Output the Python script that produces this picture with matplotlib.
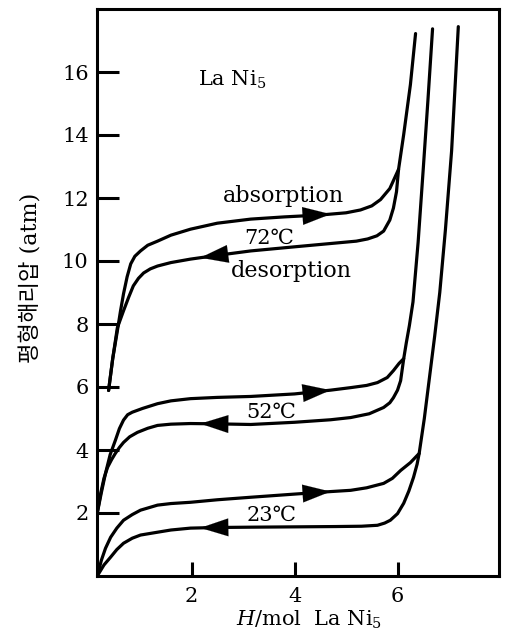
import numpy as np
import matplotlib.pyplot as plt

plt.rcParams['font.family'] = ['DejaVu Serif', 'Noto Sans CJK KR', 'DejaVu Sans']
plt.rcParams['mathtext.fontset'] = 'dejavuserif'

# ---- data (x: H/mol LaNi5, y: atm) ----
x_72_abs = [0.39, 0.47, 0.56, 0.62, 0.68, 0.75, 0.82, 0.90, 1.01, 1.15, 1.34, 1.60, 1.98, 2.5,
            3.15, 3.8, 4.5, 5.0, 5.28, 5.5, 5.67, 5.85, 6.02, 6.12, 6.25, 6.35]
y_72_abs = [5.89, 6.9, 7.78, 8.4, 8.96, 9.5, 9.91, 10.15, 10.32, 10.5, 10.63, 10.82, 11.01, 11.2,
            11.33, 11.4, 11.46, 11.53, 11.62, 11.75, 11.95, 12.3, 12.91, 14.02, 15.6, 17.22]
x_72_des = [0.39, 0.47, 0.56, 0.62, 0.68, 0.78, 0.87, 0.97, 1.07, 1.2, 1.34, 1.6, 1.98, 2.5,
            3.15, 4.0, 4.8, 5.2, 5.42, 5.6, 5.73, 5.85, 5.92, 5.98, 6.02]
y_72_des = [5.89, 6.9, 7.88, 8.15, 8.42, 8.85, 9.21, 9.45, 9.62, 9.75, 9.84, 9.95, 10.06, 10.18,
            10.32, 10.45, 10.57, 10.63, 10.70, 10.8, 10.95, 11.3, 11.68, 12.2, 12.91]

x_52_abs = [0.17, 0.25, 0.33, 0.42, 0.52, 0.60, 0.68, 0.76, 0.85, 1.05, 1.34, 1.6, 1.98, 2.5,
            3.15, 4.0, 4.7, 5.09, 5.4, 5.61, 5.8, 5.92, 6.03, 6.12, 6.17, 6.23, 6.30, 6.40,
            6.50, 6.59, 6.68]
y_52_abs = [2.0, 2.65, 3.26, 3.85, 4.30, 4.68, 4.95, 5.12, 5.2, 5.32, 5.47, 5.56, 5.63, 5.67,
            5.70, 5.78, 5.9, 5.98, 6.05, 6.14, 6.3, 6.52, 6.75, 6.90, 7.4, 7.95, 8.7, 10.6,
            12.94, 15.1, 17.37]
x_52_des = [0.17, 0.24, 0.30, 0.37, 0.45, 0.52, 0.60, 0.68, 0.8, 0.95, 1.15, 1.34, 1.6, 1.98,
            2.5, 3.15, 4.0, 4.7, 5.09, 5.45, 5.73, 5.85, 5.92, 6.0, 6.06, 6.12]
y_52_des = [2.0, 2.65, 3.1, 3.45, 3.7, 3.89, 4.08, 4.24, 4.42, 4.56, 4.69, 4.78, 4.82, 4.84,
            4.83, 4.81, 4.88, 4.96, 5.03, 5.15, 5.35, 5.5, 5.66, 5.9, 6.20, 6.90]

x_23_abs = [0.17, 0.25, 0.33, 0.43, 0.55, 0.68, 0.85, 1.01, 1.34, 1.6, 1.98, 2.5, 3.15, 4.0,
            4.7, 5.09, 5.4, 5.73, 5.9, 6.06, 6.25, 6.42, 6.52, 6.62, 6.72, 6.82, 6.93, 7.05, 7.18]
y_23_abs = [0.0, 0.5, 0.88, 1.23, 1.52, 1.77, 1.95, 2.09, 2.25, 2.3, 2.34, 2.42, 2.5, 2.6,
            2.68, 2.72, 2.8, 2.94, 3.1, 3.35, 3.6, 3.89, 5.0, 6.3, 7.6, 9.0, 11.0, 13.5, 17.44]
x_23_des = [0.17, 0.30, 0.43, 0.55, 0.68, 0.85, 1.01, 1.34, 1.6, 1.98, 2.5, 3.15, 4.0, 4.8,
            5.3, 5.61, 5.75, 5.86, 6.0, 6.12, 6.22, 6.31, 6.38, 6.42]
y_23_des = [0.0, 0.35, 0.60, 0.84, 1.04, 1.2, 1.30, 1.39, 1.46, 1.52, 1.54, 1.55, 1.56, 1.57,
            1.58, 1.61, 1.68, 1.77, 1.98, 2.31, 2.7, 3.13, 3.55, 3.89]

temps = ['72℃', '52℃', '23℃']
abs_curves = [(x_72_abs, y_72_abs), (x_52_abs, y_52_abs), (x_23_abs, y_23_abs)]
des_curves = [(x_72_des, y_72_des), (x_52_des, y_52_des), (x_23_des, y_23_des)]
arrow_abs_x = [4.70, 4.70, 4.70]
arrow_des_x = [2.17, 2.17, 2.17]

x_ticks = [2, 4, 6]
y_ticks = [2, 4, 6, 8, 10, 12, 14, 16]

fig = plt.figure(figsize=(5.05, 6.43), dpi=100)
ax = fig.add_axes([97 / 505, 67 / 643, 402 / 505, 567 / 643])

lw = 2.3
for (xa, ya), (xd, yd) in zip(abs_curves, des_curves):
    ax.plot(xa, ya, color='black', lw=lw, solid_capstyle='round', solid_joinstyle='round')
    ax.plot(xd, yd, color='black', lw=lw, solid_capstyle='round', solid_joinstyle='round')

aprops = dict(arrowstyle='-|>,head_length=1.0,head_width=0.32', color='black',
              lw=0.1, mutation_scale=20, shrinkA=0, shrinkB=0)
for (xa, ya), (xd, yd), ax_x, dx in zip(abs_curves, des_curves, arrow_abs_x, arrow_des_x):
    # absorption arrow points right, desorption arrow points left
    ax.annotate('', xy=(ax_x, np.interp(ax_x, xa, ya)),
                xytext=(ax_x - 0.5, np.interp(ax_x - 0.5, xa, ya)), arrowprops=aprops)
    ax.annotate('', xy=(dx, np.interp(dx, xd, yd)),
                xytext=(dx + 0.5, np.interp(dx + 0.5, xd, yd)), arrowprops=aprops)

fs = 15
ax.text(3.5, 10.73, temps[0], fontsize=fs, ha='center', va='center')
ax.text(3.55, 5.19, temps[1], fontsize=fs, ha='center', va='center')
ax.text(3.55, 1.93, temps[2], fontsize=fs, ha='center', va='center')
ax.text(3.79, 12.06, 'absorption', fontsize=16, ha='center', va='center')
ax.text(3.94, 9.68, 'desorption', fontsize=16, ha='center', va='center')
ax.text(2.78, 15.75, 'La Ni$_5$', fontsize=15, ha='center', va='center')

ax.set_xlim(0.165, 7.97)
ax.set_ylim(0, 18)
ax.set_xticks(x_ticks)
ax.set_yticks(y_ticks)
ax.tick_params(axis='y', direction='in', length=16, width=2.2, labelsize=15, pad=6)
ax.tick_params(axis='x', direction='in', length=10, width=2.2, labelsize=15, pad=8)
for sp in ax.spines.values():
    sp.set_linewidth(2.2)

ax.text(0.527, -0.078, '$H$/mol  La Ni$_5$', transform=ax.transAxes,
        fontsize=15, ha='center', va='center')
ax.text(-0.162, 0.526, '평형해리압 (atm)', transform=ax.transAxes, rotation=90,
        fontsize=16, ha='center', va='center')

fig.savefig('out.png', dpi=100)
